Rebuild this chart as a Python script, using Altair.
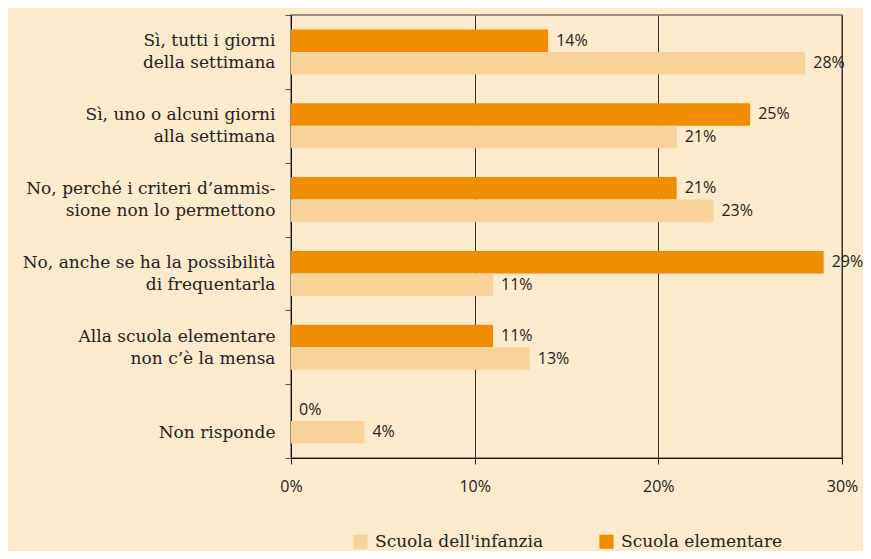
import altair as alt
import pandas as pd

categories = [
    "Sì, tutti i giorni|della settimana",
    "Sì, uno o alcuni giorni|alla settimana",
    "No, perché i criteri d’ammis-|sione non lo permettono",
    "No, anche se ha la possibilità|di frequentarla",
    "Alla scuola elementare|non c’è la mensa",
    "|Non risponde",
]
series = ["Scuola dell'infanzia", "Scuola elementare"]
infanzia = [28, 21, 23, 11, 13, 4]
elementare = [14, 25, 21, 29, 11, 0]
x_ticks = [0, 10, 20, 30]

rows = []
for c, v in zip(categories, elementare):
    rows.append({"cat": c, "serie": series[1], "val": v})
for c, v in zip(categories, infanzia):
    rows.append({"cat": c, "serie": series[0], "val": v})
df = pd.DataFrame(rows)

BG = "#FCEACD"
LIGHT = "#F8D399"
ORANGE = "#F08D00"
SERIF = "DejaVu Serif"
SANS = "Open Sans"

y_enc = alt.Y(
    "cat:N",
    sort=categories,
    scale=alt.Scale(paddingInner=0, paddingOuter=0),
    axis=alt.Axis(
        title=None,
        labelExpr="split(datum.label, '|')",
        labelFont=SERIF,
        labelFontSize=17,
        labelLineHeight=22,
        labelColor="#222",
        labelPadding=10,
        labelOffset=-11,
        tickSize=6,
        tickColor="#555",
        tickBand="extent",
        domainColor="#111",
        labelLimit=400,
    ),
)
yoff = alt.YOffset(
    "serie:N",
    scale=alt.Scale(domain=[series[1], series[0]], paddingInner=0, paddingOuter=0.64),
)
x_enc = alt.X(
    "val:Q",
    scale=alt.Scale(domain=[0, 30], nice=False),
    axis=alt.Axis(
        title=None,
        values=x_ticks,
        labelExpr="datum.value + '%'",
        labelFont=SANS,
        labelFontSize=16,
        labelColor="#222",
        labelPadding=14,
        labelFlush=False,
        tickSize=6,
        tickColor="#222",
        domainColor="#111",
        grid=True,
        gridColor="#333",
        gridWidth=1,
    ),
)

base = alt.Chart(df)
bars = base.mark_bar().encode(
    y=y_enc,
    yOffset=yoff,
    x=x_enc,
    color=alt.Color(
        "serie:N",
        scale=alt.Scale(domain=series, range=[LIGHT, ORANGE]),
        legend=alt.Legend(
            title=None,
            orient="none",
            direction="horizontal",
            legendX=61,
            legendY=518,
            symbolType="square",
            symbolSize=200,
            symbolStrokeWidth=0,
            symbolOpacity=1,
            labelFont=SERIF,
            labelFontSize=17,
            labelColor="#222",
            labelOffset=6,
            columnPadding=54,
            labelLimit=300,
        ),
    ),
)
texts = base.transform_calculate(lbl="datum.val + '%'").mark_text(
    align="left", baseline="middle", dx=8, font=SANS, fontSize=16, color="#222"
).encode(
    y=alt.Y("cat:N", sort=categories),
    yOffset=alt.YOffset("serie:N"),
    x=alt.X("val:Q"),
    text="lbl:N",
)

chart = (
    alt.layer(bars, texts)
    .properties(
        width=551,
        height=443,
        background=BG,
        autosize=alt.AutoSizeParams(type="none"),
        padding={"left": 283, "top": 7, "right": 21, "bottom": 93},
    )
    .configure_view(stroke="#7a7064", strokeWidth=1.5)
)

chart.save("out.html", embed_options={"renderer": "svg", "actions": False})
